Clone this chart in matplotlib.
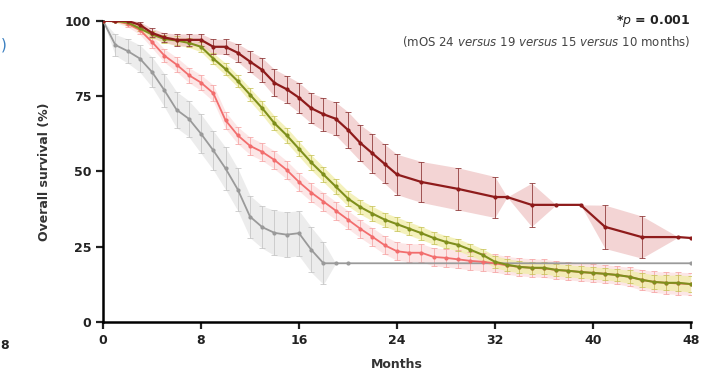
import numpy as np
import matplotlib
matplotlib.use("Agg")
import matplotlib.pyplot as plt

# Kaplan-Meier style curves (months, survival %, error)
dark_t = [0, 1, 2, 3, 4, 5, 6, 7, 8, 9, 10, 11, 12, 13, 14, 15, 16, 17, 18, 19, 20,
          21, 22, 23, 24, 26, 29, 32, 33, 35, 37, 39, 41, 44, 47, 48]
dark_s = [100, 100, 100, 98.7, 96, 94.5, 93.7, 93.7, 93.7, 91.4, 91.4, 89.4, 86.5, 83.7,
          79.4, 77.3, 74.5, 71, 69, 67.5, 63.8, 59.5, 56, 52.5, 49, 46.5, 44.2, 41.5, 41.5,
          38.9, 38.9, 38.9, 31.6, 28.2, 28.2, 27.9]
dark_e = [0, 0.5, 0.5, 1, 1.5, 1.5, 2, 2, 2, 2.5, 2.5, 3, 3.5, 4, 4.5, 4.5, 5, 5, 5.5,
          5.5, 6, 6, 6.5, 6.5, 6.7, 6.8, 7, 6.8, 0, 7.2, 0, 0, 7.2, 7, 0, 0]

olive_t = list(range(0, 49))
olive_s = [100, 100, 99.5, 97.5, 95.5, 94, 93.5, 92.7, 91.4, 87.5, 84, 80, 75.5, 71, 66,
           62, 57.5, 53, 49, 45, 41, 38.2, 36, 34, 32.5, 31, 29.5, 27.9, 26.6, 25.6, 24,
           22.3, 20, 19, 18.3, 18, 18, 17.3, 17, 16.6, 16.3, 16, 15.6, 15, 14, 13.3, 13,
           13, 12.6]
olive_e = [0, 0.5, 0.8, 1, 1.2, 1.3, 1.5, 1.5, 1.7, 1.8, 2, 2, 2.2, 2.3, 2.4, 2.5, 2.5,
           2.5, 2.5, 2.5, 2.5, 2.4, 2.4, 2.3, 2.3, 2.2, 2.2, 2.1, 2.1, 2, 2, 2, 2, 2, 2,
           2, 2, 2, 2, 2, 2, 2, 2, 2.2, 2.3, 2.4, 2.5, 2.6, 2.7]

pink_t = list(range(0, 49))
pink_s = [100, 100, 99, 97, 93, 88.5, 85.5, 82, 79.5, 76, 67, 62, 58.5, 56.5, 53.8, 50.5,
          46.5, 43, 40, 37, 34, 31, 28.3, 25.5, 23.5, 23, 23, 21.6, 21.3, 20.8, 20.3, 20,
          19.5, 18.8, 18.3, 18, 17.8, 17.3, 17, 16.6, 16.3, 16, 15.6, 15, 14, 13.3, 13,
          12.8, 12.6]
pink_e = [0, 0.5, 1, 1.5, 2, 2.2, 2.4, 2.5, 2.6, 2.7, 2.8, 2.8, 2.9, 2.9, 3, 3, 3, 3, 3,
          3, 3, 3, 3, 3, 3, 3, 3, 3, 3, 3, 3, 3, 3, 3, 3, 3, 3, 3, 3, 3, 3, 3, 3, 3.2, 3.4,
          3.5, 3.6, 3.7, 3.8]

grey_t = [0, 1, 2, 3, 4, 5, 6, 7, 8, 9, 10, 11, 12, 13, 14, 15, 16, 17, 18, 19, 20, 48]
grey_s = [100, 92, 90, 87.5, 83, 77, 70.5, 67.5, 62.5, 57, 51, 44, 35, 31.5, 29.6, 29,
          29.5, 24, 19.5, 19.5, 19.5, 19.5]
grey_e = [0, 3.5, 4, 4.5, 5, 5.5, 6, 6, 6.5, 6.5, 7, 7, 7, 7, 7.5, 7.5, 7.5, 7.5, 7, 0, 0, 0]

series = [
    (grey_t, grey_s, grey_e, "#9a9a9a", "#c4c4c4", "#e6e6e6", 1.3),
    (pink_t, pink_s, pink_e, "#f26d6d", "#f6a3a3", "#fcdede", 1.3),
    (olive_t, olive_s, olive_e, "#7f8f1c", "#c8c45a", "#f1eda6", 1.5),
    (dark_t, dark_s, dark_e, "#8e1b1b", "#8a3030", "#efc6c6", 1.6),
]

fig = plt.figure(figsize=(7.21, 3.87), dpi=100)
ax = fig.add_axes([0.143, 0.168, 0.815, 0.778])

for t, s, e, col, ecol, band, lw in series:
    t = np.array(t)
    s = np.array(s)
    e = np.array(e)
    ax.fill_between(t, s - e, s + e, color=band, alpha=0.75, lw=0)
    ax.plot(t, s, color=col, lw=lw, marker="o", ms=2, zorder=3)
    m = e > 0
    ax.errorbar(t[m], s[m], yerr=e[m], fmt="none", ecolor=ecol, elinewidth=0.7,
                capsize=2.5, capthick=0.7, alpha=0.8, zorder=2)

ax.set_xlim(0, 48)
ax.set_ylim(0, 100)
ax.set_xticks([0, 8, 16, 24, 32, 40, 48])
ax.set_yticks([0, 25, 50, 75, 100])
for side in ["top", "right"]:
    ax.spines[side].set_visible(False)
for side in ["left", "bottom"]:
    ax.spines[side].set_linewidth(1.8)
ax.tick_params(width=1.6, length=5, labelsize=9, colors="#222222")
for lab in ax.get_xticklabels() + ax.get_yticklabels():
    lab.set_fontweight("bold")
ax.set_xlabel("Months", fontsize=9, fontweight="bold", color="#333333", labelpad=8)
ax.set_ylabel("Overall survival (%)", fontsize=9, fontweight="bold", color="#333333", labelpad=10)

ax.text(1.0, 1.0, r"*$\mathbf{\it{p}}$ = 0.001", transform=ax.transAxes, ha="right",
        va="center", fontsize=9, fontweight="bold", color="#222222")
ax.text(1.0, 0.93, r"(mOS 24 $\it{versus}$ 19 $\it{versus}$ 15 $\it{versus}$ 10 months)",
        transform=ax.transAxes, ha="right", va="center", fontsize=8.5, color="#444444")

# fragments of neighbouring panels at the left edge
fig.text(0.001, 0.108, "8", fontsize=9, fontweight="bold", color="#222222", va="center")
fig.text(0.001, 0.885, ")", fontsize=11, color="#3a7fc0", va="center")

fig.savefig("out.png", dpi=100)
